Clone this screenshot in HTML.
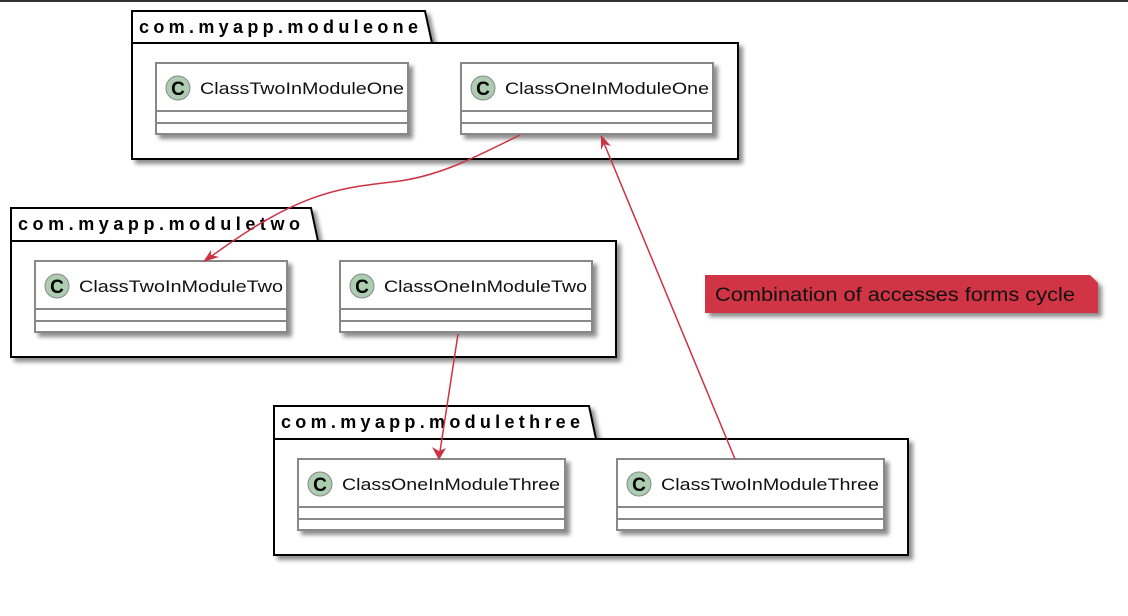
<!DOCTYPE html>
<html><head><meta charset="utf-8"><style>
html,body{margin:0;padding:0;background:#fff;}
svg{display:block;}
text{font-family:"Liberation Sans",sans-serif;}
.pk{font-weight:bold;font-size:18px;}
.cn{font-size:17px;fill:#111;}
</style></head><body>
<svg width="1128" height="616" viewBox="0 0 1128 616" xmlns="http://www.w3.org/2000/svg">
<defs>
<filter id="sh" x="-10%" y="-10%" width="130%" height="140%"><feGaussianBlur in="SourceAlpha" stdDeviation="2"/><feOffset dx="4" dy="4"/><feComponentTransfer><feFuncA type="linear" slope="0.45"/></feComponentTransfer><feMerge><feMergeNode/><feMergeNode in="SourceGraphic"/></feMerge></filter>
<g id="c"><circle cx="0" cy="0" r="12" fill="#adcdb0" stroke="#888" stroke-width="1"/><text x="0" y="7" text-anchor="middle" font-weight="bold" font-size="19" fill="#000">C</text></g>
</defs>
<rect x="0" y="0" width="1128" height="2" fill="#333"/>

<g filter="url(#sh)">
<path d="M132,43 L132,11 L425,11 L432,43 Z" fill="#fff" stroke="#000" stroke-width="2"/>
<rect x="132" y="43" width="606" height="116" fill="#fff" stroke="#000" stroke-width="2"/>
</g>
<text class="pk" x="139" y="33" textLength="279" lengthAdjust="spacing">com.myapp.moduleone</text>

<g filter="url(#sh)">
<path d="M11,241 L11,208 L311,208 L318,241 Z" fill="#fff" stroke="#000" stroke-width="2"/>
<rect x="11" y="241" width="605" height="116" fill="#fff" stroke="#000" stroke-width="2"/>
</g>
<text class="pk" x="18" y="230" textLength="282" lengthAdjust="spacing">com.myapp.moduletwo</text>

<g filter="url(#sh)">
<path d="M274,439 L274,406 L589,406 L596,439 Z" fill="#fff" stroke="#000" stroke-width="2"/>
<rect x="274" y="439" width="634" height="116" fill="#fff" stroke="#000" stroke-width="2"/>
</g>
<text class="pk" x="281" y="428" textLength="299" lengthAdjust="spacing">com.myapp.modulethree</text>

<g stroke="#888" stroke-width="2" fill="#fff">
<rect x="156" y="63" width="252" height="71" filter="url(#sh)"/>
<rect x="461" y="63" width="252" height="71" filter="url(#sh)"/>
<rect x="35" y="261" width="252" height="71" filter="url(#sh)"/>
<rect x="340" y="261" width="252" height="71" filter="url(#sh)"/>
<rect x="298" y="459" width="267" height="71" filter="url(#sh)"/>
<rect x="617" y="459" width="267" height="71" filter="url(#sh)"/>
<path d="M156,111H408M156,123H408M461,111H713M461,123H713M35,309H287M35,321H287M340,309H592M340,321H592M298,507H565M298,519H565M617,507H884M617,519H884" fill="none"/>
</g>
<use href="#c" x="178" y="88"/><text class="cn" x="200" y="94" textLength="204" lengthAdjust="spacingAndGlyphs">ClassTwoInModuleOne</text>
<use href="#c" x="483" y="88"/><text class="cn" x="505" y="94" textLength="204" lengthAdjust="spacingAndGlyphs">ClassOneInModuleOne</text>
<use href="#c" x="57" y="286"/><text class="cn" x="79" y="292" textLength="204" lengthAdjust="spacingAndGlyphs">ClassTwoInModuleTwo</text>
<use href="#c" x="362" y="286"/><text class="cn" x="384" y="292" textLength="203" lengthAdjust="spacingAndGlyphs">ClassOneInModuleTwo</text>
<use href="#c" x="320" y="484"/><text class="cn" x="342" y="490" textLength="218" lengthAdjust="spacingAndGlyphs">ClassOneInModuleThree</text>
<use href="#c" x="639" y="484"/><text class="cn" x="661" y="490" textLength="218" lengthAdjust="spacingAndGlyphs">ClassTwoInModuleThree</text>

<g filter="url(#sh)"><path d="M705,275 L1090,275 L1098,283 L1098,313 L705,313 Z" fill="#d13545"/></g>
<text x="715" y="301" font-size="19" fill="#111" textLength="360" lengthAdjust="spacingAndGlyphs">Combination of accesses forms cycle</text>

<g stroke="#cc3344" stroke-width="1.5" fill="none">
<path d="M520,135 C470,160 440,175 400,181 C340,188 300,190 205,261"/>
<path d="M458,334 L439,458"/>
<path d="M735,459 L601,136"/>
</g>
<g fill="#cc3344">
<path d="M203,262 L211,250 L211,255 L219,257 Z"/>
<path d="M439,460 L432,447 L439,451 L446,448 Z"/>
<path d="M601,135 L601,150 L604,144 L611,146 Z"/>
</g>
</svg>
</body></html>
